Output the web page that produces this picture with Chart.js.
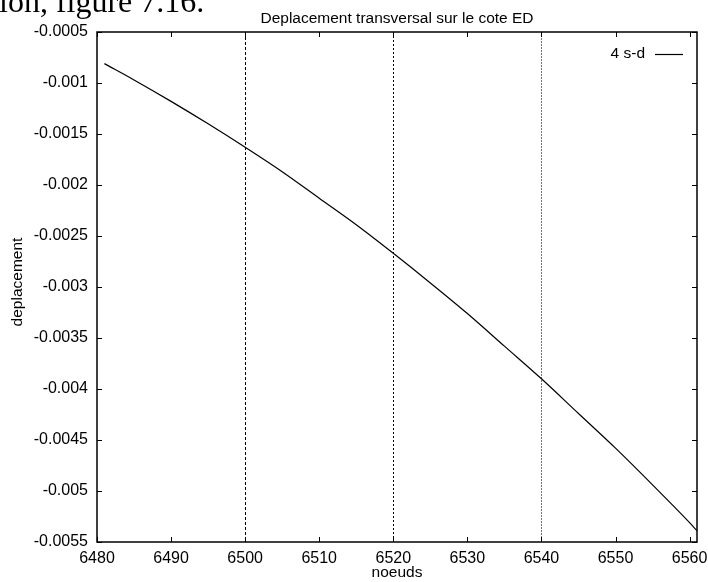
<!DOCTYPE html>
<html>
<head>
<meta charset="utf-8">
<title>Deplacement transversal</title>
<script src="https://cdn.jsdelivr.net/npm/chart.js@4.4.0/dist/chart.umd.min.js"></script>
<style>
  html, body { margin: 0; padding: 0; background: #fff; }
  #wrap { width: 708px; height: 582px; overflow: hidden; }
</style>
</head>
<body>
<div id="wrap"><canvas id="deplChart" width="708" height="582"></canvas></div>
<script>
// Textes du graphique
const chartTitle = 'Deplacement transversal sur le cote ED';
const pageCaption = 'ion, figure 7.16.';
const xLabel = 'noeuds';
const yLabel = 'deplacement';
const seriesName = '4 s-d';

// Donnees (noeud -> deplacement)
const nodes = [6481, 6485, 6490, 6495, 6500, 6505, 6510, 6515, 6520,
               6525, 6530, 6535, 6540, 6545, 6550, 6555, 6560, 6561];
const deplacement = [-0.00081, -0.00097, -0.00118, -0.00140, -0.00163, -0.00187,
                     -0.00213, -0.00239, -0.00267, -0.00296, -0.00326, -0.00358,
                     -0.00390, -0.00424, -0.00458, -0.00494, -0.00531, -0.00539];

// Graduations
const xTicks = [6480, 6490, 6500, 6510, 6520, 6530, 6540, 6550, 6560];
const yTicks = [-0.0055, -0.005, -0.0045, -0.004, -0.0035, -0.003,
                -0.0025, -0.002, -0.0015, -0.001, -0.0005];

// Lignes verticales pointillees
const markerNodes = [6500, 6520, 6540];
const markerColors = ['#000', '#000', '#777'];
const markerDashes = [[3, 2], [2, 2], [2, 1]];

const FONT = '"Liberation Sans", Arial, sans-serif';

// Plugin qui dessine le cadre, les petites graduations, les lignes et les textes
const frameLook = {
    id: 'frameLook',
    beforeDatasetsDraw(chart) {
        const ctx = chart.ctx;
        const area = chart.chartArea;
        const xs = chart.scales.x;
        ctx.save();
        ctx.lineWidth = 1;
        markerNodes.forEach((n, i) => {
            const px = Math.round(xs.getPixelForValue(n)) + 0.5;
            ctx.strokeStyle = markerColors[i];
            ctx.setLineDash(markerDashes[i]);
            ctx.beginPath();
            ctx.moveTo(px, area.top);
            ctx.lineTo(px, area.bottom);
            ctx.stroke();
        });
        ctx.restore();
    },
    afterDatasetsDraw(chart) {
        const ctx = chart.ctx;
        const area = chart.chartArea;
        const xs = chart.scales.x;
        const ys = chart.scales.y;
        const tick = 5;
        ctx.save();
        ctx.strokeStyle = '#000';
        ctx.lineWidth = 1.5;
        ctx.strokeRect(area.left, area.top, area.right - area.left, area.bottom - area.top);

        ctx.lineWidth = 1;
        ctx.beginPath();
        xTicks.forEach(v => {
            const px = Math.round(xs.getPixelForValue(v)) + 0.5;
            ctx.moveTo(px, area.bottom);
            ctx.lineTo(px, area.bottom - tick);
            ctx.moveTo(px, area.top);
            ctx.lineTo(px, area.top + tick);
        });
        yTicks.forEach(v => {
            const py = Math.round(ys.getPixelForValue(v)) + 0.5;
            ctx.moveTo(area.left, py);
            ctx.lineTo(area.left + tick, py);
            ctx.moveTo(area.right, py);
            ctx.lineTo(area.right - tick, py);
        });
        ctx.stroke();

        // legende
        ctx.fillStyle = '#000';
        ctx.font = '15.5px ' + FONT;
        ctx.textAlign = 'right';
        ctx.textBaseline = 'middle';
        ctx.fillText(seriesName, 645, 54);
        ctx.lineWidth = 1.2;
        ctx.beginPath();
        ctx.moveTo(655, 54.5);
        ctx.lineTo(683, 54.5);
        ctx.stroke();
        ctx.restore();
    },
    afterDraw(chart) {
        const ctx = chart.ctx;
        const area = chart.chartArea;
        const midX = (area.left + area.right) / 2;
        ctx.save();
        ctx.fillStyle = '#000';

        // bout de texte du document, coupe en haut
        ctx.font = '32px "Liberation Serif", "DejaVu Serif", serif';
        ctx.textAlign = 'left';
        ctx.textBaseline = 'alphabetic';
        ctx.fillText(pageCaption, -1, 11.5);

        ctx.font = '15.5px ' + FONT;
        ctx.textAlign = 'center';
        ctx.fillText(chartTitle, midX, 23);
        ctx.fillText(xLabel, midX, 577);

        ctx.translate(18, 282);
        ctx.rotate(-Math.PI / 2);
        ctx.textBaseline = 'middle';
        ctx.fillText(yLabel, 0, 0);
        ctx.restore();
    }
};

function renderChart() {
    const ctx = document.getElementById('deplChart').getContext('2d');
    const points = nodes.map((n, i) => ({ x: n, y: deplacement[i] }));

    new Chart(ctx, {
        type: 'line',
        data: {
            datasets: [{
                label: seriesName,
                data: points,
                borderColor: '#000',
                borderWidth: 1.2,
                pointRadius: 0,
                fill: false,
                cubicInterpolationMode: 'monotone'
            }]
        },
        options: {
            responsive: false,
            animation: false,
            layout: { padding: { top: 32, right: 11, left: 0, bottom: 0 } },
            plugins: {
                legend: { display: false },
                title: { display: false },
                tooltip: { enabled: false }
            },
            scales: {
                x: {
                    type: 'linear',
                    min: 6480,
                    max: 6561,
                    afterBuildTicks: s => { s.ticks = xTicks.map(v => ({ value: v })); },
                    afterFit: s => {
                        s.height = 40;
                        s.paddingLeft = 0;
                        s.paddingRight = 0;
                    },
                    grid: { display: false, drawTicks: false },
                    border: { display: false },
                    ticks: {
                        color: '#000',
                        font: { family: FONT, size: 16 },
                        padding: 7,
                        maxRotation: 0,
                        autoSkip: false,
                        callback: v => String(v)
                    }
                },
                y: {
                    type: 'linear',
                    min: -0.0055,
                    max: -0.0005,
                    afterBuildTicks: s => { s.ticks = yTicks.map(v => ({ value: v })); },
                    afterFit: s => {
                        s.width = 97;
                        s.paddingTop = 0;
                        s.paddingBottom = 0;
                    },
                    grid: { display: false, drawTicks: false },
                    border: { display: false },
                    ticks: {
                        color: '#000',
                        font: { family: FONT, size: 16 },
                        padding: 9,
                        autoSkip: false,
                        callback: v => String(parseFloat(v.toFixed(4)))
                    }
                }
            }
        },
        plugins: [frameLook]
    });
}

window.onload = function() {
    renderChart();
};
</script>
</body>
</html>
